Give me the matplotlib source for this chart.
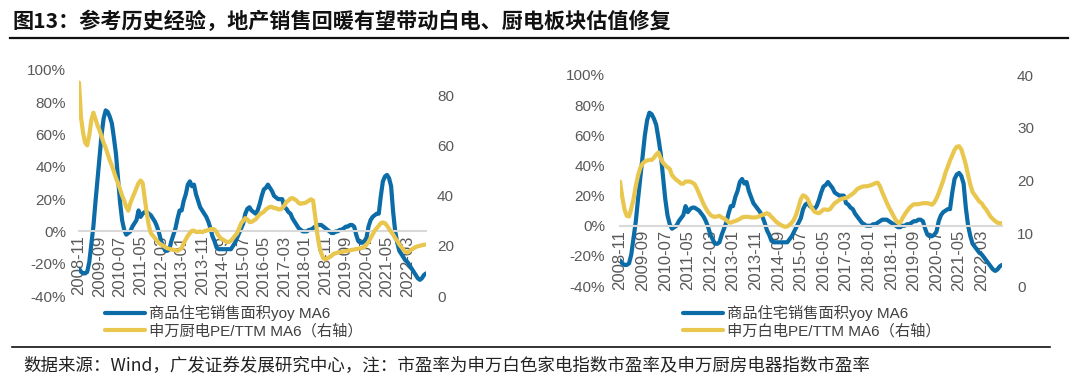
import matplotlib
matplotlib.use("Agg")
import matplotlib.pyplot as plt
from matplotlib.ticker import PercentFormatter, FixedLocator
from matplotlib.lines import Line2D
import numpy as np
import pandas as pd

plt.rcParams['font.family'] = ['Liberation Sans', 'Noto Sans CJK SC']
plt.rcParams['axes.unicode_minus'] = False

# ---------------- data ----------------
months = [str(p) for p in pd.period_range('2008-11', periods=170, freq='M')]
tick_labels = ['2008-11', '2009-09', '2010-07', '2011-05', '2012-03', '2013-01',
               '2013-11', '2014-09', '2015-07', '2016-05', '2017-03', '2018-01',
               '2018-11', '2019-09', '2020-07', '2021-05', '2022-03']

# 商品住宅销售面积yoy MA6 (%)
sales_yoy = [
    -23, -25, -26, -26, -25, -19, -8, 3, 18, 32,
    46, 60, 70, 75, 74, 71, 67, 58, 48, 33,
    18, 7, 1, -2, -1, 0, 3, 5, 7, 13,
    9, 11, 12, 12, 11, 10, 8, 6, 3, -1,
    -6, -9, -12, -12, -11, -6, -2, 2, 8, 13,
    13, 19, 23, 29, 31, 28, 29, 23, 19, 15,
    13, 11, 9, 6, 2, -3, -6, -10, -11, -11,
    -11, -11, -11, -11, -11, -9, -7, -4, -1, 2,
    5, 11, 14, 15, 13, 12, 11, 13, 17, 22,
    26, 27, 29, 27, 25, 22, 21, 20, 20, 20,
    15, 14, 12, 11, 8, 6, 4, 2, 1, 0,
    0, 0, 1, 1, 2, 3, 4, 4, 4, 3,
    2, 1, 0, -1, -1, 0, 0, 1, 1, 2,
    3, 3, 4, 4, 3, -2, -6, -7, -7, -6,
    -4, 3, 7, 9, 10, 11, 11, 22, 31, 34,
    35, 33, 28, 12, 0, -7, -12, -14, -16, -18,
    -19, -21, -23, -25, -27, -29, -30, -29, -27, -26,
]

# 申万厨电PE/TTM MA6
kitchen_pe = [
    85, 71, 65, 61, 60, 64, 70, 73, 70.5, 68,
    66, 63.5, 61, 59, 56.5, 54, 52, 49.5, 47, 45,
    42.5, 40, 38, 35.5, 34, 37, 39, 41, 43, 45,
    46, 45, 39, 33, 28, 25, 24, 23, 22, 21,
    20.5, 20, 19.5, 19, 18.8, 18.5, 18.4, 18.2, 18, 18.5,
    19, 21, 22.5, 24, 25, 26, 26, 25.5, 25.5, 25.7,
    25.4, 25.8, 26, 26.3, 26.6, 26.7, 26.5, 25.4, 24, 23,
    22.5, 22, 21.5, 21.5, 22, 23, 24, 25, 27, 29,
    30, 31, 30.5, 29.5, 29.5, 30, 30.5, 31.5, 32.5, 33,
    33.5, 34.5, 35, 35.5, 35.5, 35, 35, 34.5, 34.5, 35,
    36, 37.5, 38, 38.8, 39, 38.5, 38, 37, 36.7, 37,
    37, 37.5, 38, 38.5, 38, 32, 25, 20, 17, 15,
    14.5, 15, 15.5, 16, 16.8, 17, 17.3, 17.5, 17.5, 17.8,
    17.9, 18, 18.2, 18.4, 18.5, 18.7, 18.8, 19, 19.3, 19.5,
    20.5, 21.5, 23, 24.5, 26, 27, 28, 29, 29.3, 29,
    28, 26.8, 25.5, 24.5, 23, 22, 20.5, 19.5, 18.5, 17.5,
    17.3, 18, 18.5, 19, 19.5, 19.8, 20, 20.2, 20.4, 20.5,
]

# 申万白电PE/TTM MA6
white_pe = [
    19.8, 16.9, 14.5, 13.3, 13.2, 14.7, 16.5, 19, 21, 22.4,
    23.2, 23.6, 23.8, 23.9, 23.9, 24.3, 24.9, 25.3, 24.2, 23.4,
    22.9, 22.5, 22.2, 21, 20.5, 20.1, 19.8, 19.4, 19.4, 19.8,
    19.8, 19.8, 19.6, 19.3, 18.5, 17.5, 16.5, 15.5, 14.7, 14,
    13.5, 13.2, 13.1, 13.2, 13.3, 13, 12.8, 12.5, 12.1, 12,
    12.2, 12.3, 12.5, 12.7, 13, 13.1, 13.1, 13.1, 13, 13,
    13, 13.1, 13.3, 13.5, 13.6, 13.8, 13.6, 13.1, 12.7, 12.2,
    11.9, 11.6, 11.4, 11.2, 11.3, 11.6, 12, 12.6, 13.6, 15,
    16.5, 17.2, 17, 16.5, 15.5, 14.7, 14.1, 13.9, 13.8, 14.1,
    14.5, 14.5, 14.4, 14.6, 15.2, 15.7, 16, 16.3, 16.5, 16.6,
    16.7, 16.9, 17.2, 17.5, 17.9, 18.4, 18.6, 18.8, 18.9, 18.9,
    19, 19.1, 19.3, 19.5, 19.6, 18.9, 17.8, 16.8, 15.8, 14.9,
    14.1, 13.3, 12.5, 12, 12, 12.9, 13.6, 14.2, 14.8, 15.2,
    15.5, 15.5, 15.5, 15.6, 15.7, 15.7, 15.7, 15.6, 15.4, 15.8,
    16.6, 17.6, 18.8, 20, 21.5, 22.6, 23.8, 24.8, 25.8, 26.4,
    26.5, 25.9, 24.5, 23, 21, 19.2, 17.8, 17.2, 16.6, 16,
    15.7, 15, 14.5, 13.8, 13.1, 12.7, 12.3, 12, 11.9, 11.9,
]

title = '图13：参考历史经验，地产销售回暖有望带动白电、厨电板块估值修复'
source = '数据来源：Wind，广发证券发展研究中心，注：市盈率为申万白色家电指数市盈率及申万厨房电器指数市盈率'
blue_label = '商品住宅销售面积yoy MA6'
left_yellow_label = '申万厨电PE/TTM MA6（右轴）'
right_yellow_label = '申万白电PE/TTM MA6（右轴）'

# ---------------- style ----------------
BLUE = '#0B6CA8'
YELLOW = '#E9C64D'
TICK = '#595959'
W, H = 1080, 389

fig = plt.figure(figsize=(W / 100, H / 100), dpi=100)


def fx(px):
    return px / W


def fy(py):
    return 1 - py / H


x = np.arange(len(months))
tick_pos = [months.index(t) for t in tick_labels]


def make_panel(rect, pe, pe_max, pe_ticks, pe_label, lpad, rpad, legend_x):
    ax = fig.add_axes(rect)
    ax.set_xlim(0, len(months) - 1)
    ax.set_ylim(-0.4, 1.0)
    ax.plot(x, np.array(sales_yoy) / 100, color=BLUE, lw=3.0,
            solid_joinstyle='round', solid_capstyle='round', label=blue_label)
    for s in ['top', 'right', 'left']:
        ax.spines[s].set_visible(False)
    ax.spines['bottom'].set_position(('data', 0))
    ax.spines['bottom'].set_color('#D9D9D9')
    ax.spines['bottom'].set_linewidth(1.5)
    ax.yaxis.set_major_locator(FixedLocator(np.arange(-0.4, 1.01, 0.2)))
    ax.yaxis.set_major_formatter(PercentFormatter(1.0, decimals=0))
    ax.set_xticks(tick_pos)
    ax.set_xticklabels(tick_labels, rotation=90, ha='center', va='top')
    ax.tick_params(axis='x', length=0, pad=3, labelsize=12, labelcolor=TICK)
    ax.tick_params(axis='y', length=0, pad=lpad, labelsize=11, labelcolor=TICK)
    ax.set_facecolor('none')

    ax2 = ax.twinx()
    ax2.set_ylim(0, pe_max)
    ax2.set_yticks(pe_ticks)
    ax2.plot(x, pe, color=YELLOW, lw=3.0, solid_joinstyle='round',
             solid_capstyle='round', label=pe_label)
    for s in ax2.spines.values():
        s.set_visible(False)
    ax2.tick_params(axis='y', length=0, pad=rpad, labelsize=11, labelcolor=TICK)

    h1, l1 = ax.get_legend_handles_labels()
    h2, l2 = ax2.get_legend_handles_labels()
    fig.legend(h1 + h2, l1 + l2, loc='upper left',
               bbox_to_anchor=(fx(legend_x), fy(305)), frameon=False,
               fontsize=11, handlelength=2.6, handletextpad=0.25,
               labelspacing=0.18, borderpad=0, borderaxespad=0,
               labelcolor='#404040')
    return ax, ax2


make_panel([fx(79), fy(296), fx(426) - fx(79), (296 - 70) / H],
           kitchen_pe, 90, [0, 20, 40, 60, 80], left_yellow_label,
           9.4, 8.0, 105)
make_panel([fx(620), fy(286), fx(1002) - fx(620), (286 - 75) / H],
           white_pe, 40, [0, 10, 20, 30, 40], right_yellow_label,
           10.8, 10.8, 683)

# title, rules and source
fig.text(fx(12), fy(21), title, fontsize=15.2, fontweight='bold',
         va='center', ha='left', color='#111111',
         family=['Noto Sans CJK SC'])
fig.add_artist(Line2D([fx(10), fx(1068)], [fy(38), fy(38)],
                      color='#111111', lw=1.6))
fig.add_artist(Line2D([fx(12), fx(1050)], [fy(347), fy(347)],
                      color='#111111', lw=1.2))
fig.text(fx(23), fy(366), source, fontsize=12.6, va='center', ha='left',
         color='#222222', family=['Noto Sans CJK SC', 'Liberation Sans'])

fig.savefig('out.png', dpi=100)
